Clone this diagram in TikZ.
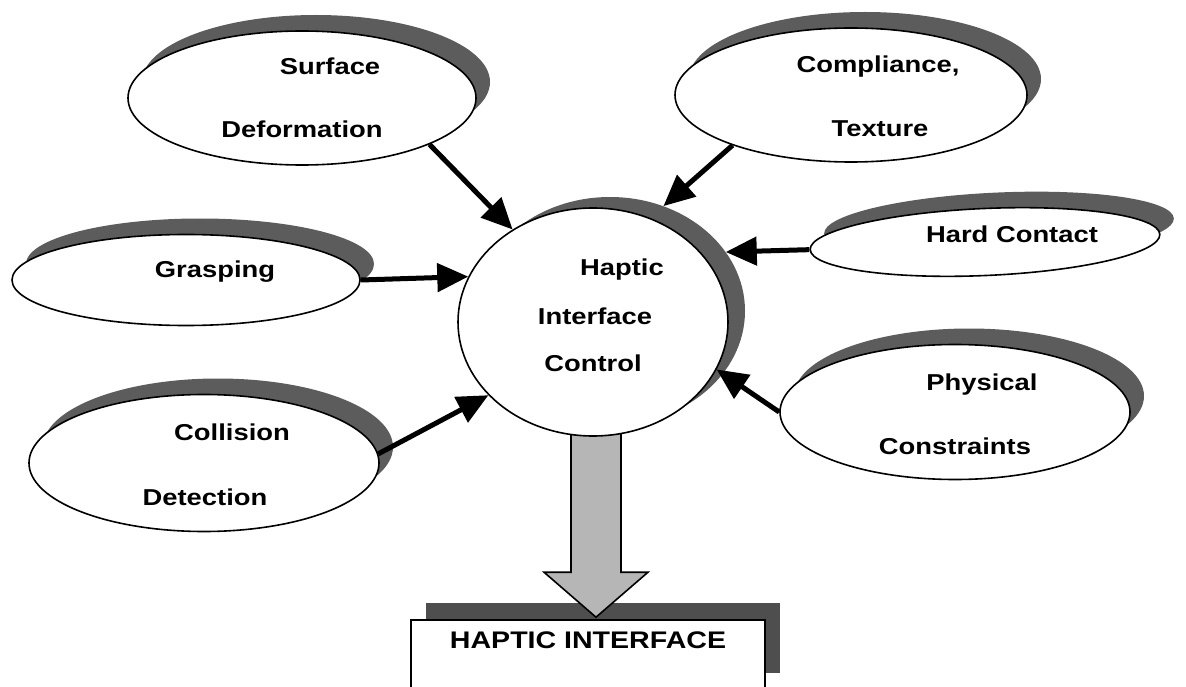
\documentclass[tikz,border=0pt]{standalone}
\usepackage{fontspec}
\newfontfamily\lblfont{Liberation Sans}[FakeStretch=1.19]
\usetikzlibrary{shapes.geometric,shadows,calc,arrows.meta}
\pgfdeclarelayer{back}
\pgfdeclarelayer{mid}
\pgfsetlayers{back,mid,main}
\definecolor{shadowgray}{RGB}{92,92,92}
\definecolor{boxshadow}{RGB}{78,78,78}
\definecolor{arrowgray}{RGB}{182,182,182}

\begin{document}
\begin{tikzpicture}[x=1pt,y=-1pt,
  bubble/.style={ellipse, draw, fill=white, line width=1.6pt, inner sep=0pt,
    drop shadow={shadow xshift=14pt, shadow yshift=16pt, fill=shadowgray, opacity=1}},
  castshadow/.style={ellipse, fill=shadowgray, draw=none, inner sep=0pt},
  lbl/.style={font={\lblfont\bfseries\fontsize{23pt}{27pt}\selectfont}, inner sep=0pt, anchor=base},
  feed/.style={line width=5pt, -{Triangle[length=31pt,width=28pt]}},
]
\useasboundingbox (0,0) rectangle (1186,687);

% paper and output box with its shadow
\begin{pgfonlayer}{back}
\fill[white] (0,0) rectangle (1186,687);
\node[rectangle, draw, fill=white, line width=1.6pt, minimum width=354pt, minimum height=70pt,
  drop shadow={shadow xshift=15pt, shadow yshift=17pt, fill=boxshadow, opacity=1}] (hi) at (588,655) {};
\end{pgfonlayer}

% input ellipses
\node[bubble, minimum width=348pt, minimum height=134pt] (sd) at (302,98) {};
\node[bubble, minimum width=352pt, minimum height=134pt] (ct) at (851,95) {};
\node[bubble, minimum width=350pt, minimum height=67pt, rotate=2.5] (hc) at (985,242) {};
\node[bubble, minimum width=348pt, minimum height=91pt] (gr) at (186,280) {};
\node[bubble, minimum width=350pt, minimum height=137pt] (cd) at (204,463) {};
\node[bubble, minimum width=350pt, minimum height=135pt] (pc) at (955,412) {};

% central controller
\node[ellipse, draw, fill=white, line width=1.6pt, inner sep=0pt,
  minimum width=270pt, minimum height=228pt] (hic) at (593,322) {};
\begin{pgfonlayer}{back}
\node[castshadow, minimum width=270pt, minimum height=228pt] (hicsh) at ($(hic)+(17,-11)$) {};
\end{pgfonlayer}

% wide output arrow
\begin{pgfonlayer}{mid}
\coordinate (btop) at ($(hic.south)+(3,-12)$);
\coordinate (btip) at ($(hic.south |- hi.north)+(3,-2)$);
\filldraw[fill=arrowgray, line width=1.6pt, line join=miter]
  ($(btop)+(-25,0)$) -- ($(btip)+(-25,-45)$) -- ($(btip)+(-52,-45)$) -- (btip)
  -- ($(btip)+(52,-45)$) -- ($(btip)+(25,-45)$) -- ($(btop)+(25,0)$) -- cycle;
\end{pgfonlayer}

% labels
\node[lbl] (sdA) at (330,75) {Surface};
\node[lbl] (sdB) at (302,138) {Deformation};
\node[lbl] (ctA) at (878,73) {Compliance,};
\node[lbl] (ctB) at (880,137) {Texture};
\node[lbl] (hcA) at (1012,243) {Hard Contact};
\node[lbl] (grA) at (215,277) {Grasping};
\node[lbl] (cdA) at (232,440) {Collision};
\node[lbl] (cdB) at (205,505) {Detection};
\node[lbl] (pcA) at (982,390) {Physical};
\node[lbl] (pcB) at (955,454) {Constraints};
\node[lbl] (hicA) at (622,275) {Haptic};
\node[lbl] (hicB) at (595,324) {Interface};
\node[lbl] (hicC) at (593,371) {Control};
\node[lbl, font={\lblfont\bfseries\fontsize{24pt}{28pt}\selectfont}] (hiA) at (588,648) {HAPTIC INTERFACE};

% connectors into the controller
\draw[feed] (sd.-20) -- (hic.131);
\draw[feed] (ct.-157) -- (hicsh.63);
\draw[feed] (hc.west) -- (hicsh.27);
\draw[feed] (gr.east) -- (hic.160);
\draw[feed] (cd.3) -- (hic.215);
\draw[feed] (pc.west) -- (hic.-21.5);
\end{tikzpicture}
\end{document}
